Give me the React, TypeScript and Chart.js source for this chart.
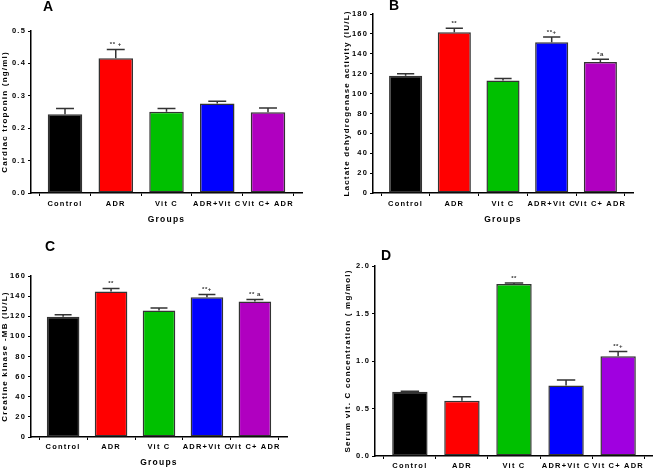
import React, { useEffect, useRef } from 'react';
import { Chart, registerables } from 'chart.js';

Chart.register(...registerables);

// ---------- data ----------
const groups = ['Control', 'ADR', 'Vit C', 'ADR+Vit C', 'Vit C+ ADR'];
const barColorsABC = ['#000000', '#ff0000', '#00c000', '#0000ff', '#b000c0'];
const barColorsD = ['#000000', '#ff0000', '#00c000', '#0000ff', '#a000e0'];

const troponinMean = [0.243, 0.416, 0.251, 0.276, 0.249];
const troponinErr = [0.018, 0.027, 0.01, 0.007, 0.013];
const troponinMarks = ['', '** +', '', '', ''];

const ldhMean = [117.8, 161.6, 113.1, 151.6, 131.8];
const ldhErr = [2.0, 4.1, 2.0, 5.3, 2.7];
const ldhMarks = ['', '**', '', '**+', '*a'];

const ckMean = [119.4, 144.5, 125.7, 138.9, 134.6];
const ckErr = [2.0, 3.0, 2.6, 2.6, 2.0];
const ckMarks = ['', '**', '', '**+', '** a'];

const vitcMean = [0.676, 0.581, 1.81, 0.743, 1.05];
const vitcErr = [0.006, 0.042, 0.01, 0.057, 0.05];
const vitcMarks = ['', '', '**', '', '**+'];

const FONT = "'Liberation Sans', Arial, Helvetica, sans-serif";

type Panel = {
  letter: string;
  letterX: number;
  letterY: number;
  mean: number[];
  err: number[];
  marks: string[];
  colors: string[];
  yTitle: string;
  xTitle: string;
  yMax: number;
  yStep: number;
  decimals: number;
  box: { left: number; top: number; width: number; height: number };
  pad: { left: number; right: number; top: number; bottom: number };
  yWidth: number;
  xHeight: number;
  xTickPad: number;
  xTitlePad: number;
};

const panels: Panel[] = [
  {
    letter: 'A', letterX: 43, letterY: 11,
    mean: troponinMean, err: troponinErr, marks: troponinMarks, colors: barColorsABC,
    yTitle: 'Cardiac troponin (ng/ml)', xTitle: 'Groups',
    yMax: 0.5, yStep: 0.1, decimals: 1,
    box: { left: 0, top: 0, width: 326, height: 235 },
    pad: { left: 0, right: 24, top: 31, bottom: 0 },
    yWidth: 31, xHeight: 42, xTickPad: 3, xTitlePad: 10,
  },
  {
    letter: 'B', letterX: 63, letterY: 10,
    mean: ldhMean, err: ldhErr, marks: ldhMarks, colors: barColorsABC,
    yTitle: 'Lactate dehydrogenase activity (IU/L)', xTitle: 'Groups',
    yMax: 180, yStep: 20, decimals: 0,
    box: { left: 326, top: 0, width: 327, height: 235 },
    pad: { left: 16, right: 20, top: 14, bottom: 0 },
    yWidth: 31, xHeight: 42, xTickPad: 3, xTitlePad: 10,
  },
  {
    letter: 'C', letterX: 45, letterY: 16,
    mean: ckMean, err: ckErr, marks: ckMarks, colors: barColorsABC,
    yTitle: 'Creatine kinase -MB (IU/L)', xTitle: 'Groups',
    yMax: 160, yStep: 20, decimals: 0,
    box: { left: 0, top: 235, width: 326, height: 234 },
    pad: { left: 0, right: 39, top: 41, bottom: 0 },
    yWidth: 31, xHeight: 32, xTickPad: 2, xTitlePad: 1,
  },
  {
    letter: 'D', letterX: 55, letterY: 25,
    mean: vitcMean, err: vitcErr, marks: vitcMarks, colors: barColorsD,
    yTitle: 'Serum vit. C concentration ( mg/mol)', xTitle: '',
    yMax: 2.0, yStep: 0.5, decimals: 1,
    box: { left: 326, top: 235, width: 327, height: 234 },
    pad: { left: 17, right: 0, top: 31, bottom: 0 },
    yWidth: 32, xHeight: 13, xTickPad: 2, xTitlePad: 0,
  },
];

const spacingPlugin = {
  id: 'letterSpacing',
  beforeUpdate(chart: any) {
    chart.ctx.letterSpacing = '1.2px';
  },
  beforeDraw(chart: any) {
    chart.ctx.letterSpacing = '1.2px';
  },
};

function makeDeco(p: Panel) {
  return {
    id: 'deco',
    afterDatasetsDraw(chart: any) {
      const { ctx } = chart;
      const meta = chart.getDatasetMeta(0);
      const y = chart.scales.y;
      ctx.save();
      ctx.strokeStyle = '#333333';
      ctx.lineWidth = 1.5;
      p.mean.forEach((m, i) => {
        const bar = meta.data[i];
        const x = bar.x;
        const yTop = y.getPixelForValue(m);
        const yErr = y.getPixelForValue(m + p.err[i]);
        const half = bar.width * 0.26;
        ctx.beginPath();
        ctx.moveTo(x, yTop);
        ctx.lineTo(x, yErr);
        ctx.moveTo(x - half, yErr);
        ctx.lineTo(x + half, yErr);
        ctx.stroke();
        if (p.marks[i]) {
          ctx.letterSpacing = '0.5px';
          ctx.font = `bold 6px ${FONT}`;
          ctx.fillStyle = '#333333';
          ctx.textAlign = 'center';
          ctx.textBaseline = 'bottom';
          ctx.fillText(p.marks[i], x, yErr - 2);
        }
      });
      ctx.letterSpacing = '0px';
      ctx.font = `bold 14px ${FONT}`;
      ctx.fillStyle = '#000000';
      ctx.textAlign = 'left';
      ctx.textBaseline = 'alphabetic';
      ctx.fillText(p.letter, p.letterX, p.letterY);
      ctx.restore();
    },
  };
}

function PanelChart({ p }: { p: Panel }) {
  const ref = useRef<HTMLCanvasElement | null>(null);
  useEffect(() => {
    if (!ref.current) return;
    const tickFont = { family: FONT, size: 7.5, weight: 'bold' as const };
    const chart = new Chart(ref.current, {
      type: 'bar',
      data: {
        datasets: [
          {
            data: p.mean.map((v, i) => ({ x: i, y: v })) as any,
            backgroundColor: p.colors,
            borderColor: '#333333',
            borderWidth: 1.5,
            borderSkipped: false,
            barPercentage: 0.68,
            categoryPercentage: 1,
          },
        ],
      },
      options: {
        responsive: false,
        animation: false,
        layout: { padding: p.pad },
        plugins: {
          legend: { display: false },
          tooltip: { enabled: false },
        },
        scales: {
          x: {
            type: 'linear',
            min: -0.67,
            max: 4.67,
            offset: false,
            afterBuildTicks: (s: any) => {
              s.ticks = groups.map((_, i) => ({ value: i }));
            },
            afterFit: (s: any) => {
              s.height = p.xHeight;
            },
            ticks: {
              callback: (v: any) => groups[v] ?? '',
              autoSkip: false,
              maxRotation: 0,
              minRotation: 0,
              padding: p.xTickPad,
              color: '#000000',
              font: tickFont,
            },
            grid: {
              display: true,
              drawOnChartArea: false,
              drawTicks: true,
              tickLength: 3,
              color: '#000000',
              lineWidth: 1,
            },
            border: { display: true, color: '#000000', width: 1.5 },
            title: {
              display: !!p.xTitle,
              text: p.xTitle,
              color: '#000000',
              font: { family: FONT, size: 8.5, weight: 'bold' },
              padding: { top: 0, bottom: p.xTitlePad },
            },
          },
          y: {
            min: 0,
            max: p.yMax,
            afterFit: (s: any) => {
              s.width = p.yWidth;
            },
            ticks: {
              stepSize: p.yStep,
              callback: (v: any) => Number(v).toFixed(p.decimals),
              padding: 2,
              color: '#000000',
              font: tickFont,
            },
            grid: {
              display: true,
              drawOnChartArea: false,
              drawTicks: true,
              tickLength: 3,
              color: '#000000',
              lineWidth: 1,
            },
            border: { display: true, color: '#000000', width: 1.5 },
            title: {
              display: true,
              text: p.yTitle,
              color: '#000000',
              font: { family: FONT, size: 8, weight: 'bold' },
              padding: { top: 0, bottom: 0 },
            },
          },
        },
      } as any,
      plugins: [spacingPlugin, makeDeco(p)],
    });
    return () => chart.destroy();
  }, [p]);
  return (
    <canvas
      ref={ref}
      width={p.box.width}
      height={p.box.height}
      style={{
        position: 'absolute',
        left: p.box.left,
        top: p.box.top,
        width: p.box.width,
        height: p.box.height,
      }}
    />
  );
}

export default function App() {
  return (
    <div
      style={{
        position: 'absolute',
        left: 0,
        top: 0,
        width: 653,
        height: 469,
        background: '#ffffff',
        overflow: 'hidden',
      }}
    >
      {panels.map((p) => (
        <PanelChart key={p.letter} p={p} />
      ))}
    </div>
  );
}
